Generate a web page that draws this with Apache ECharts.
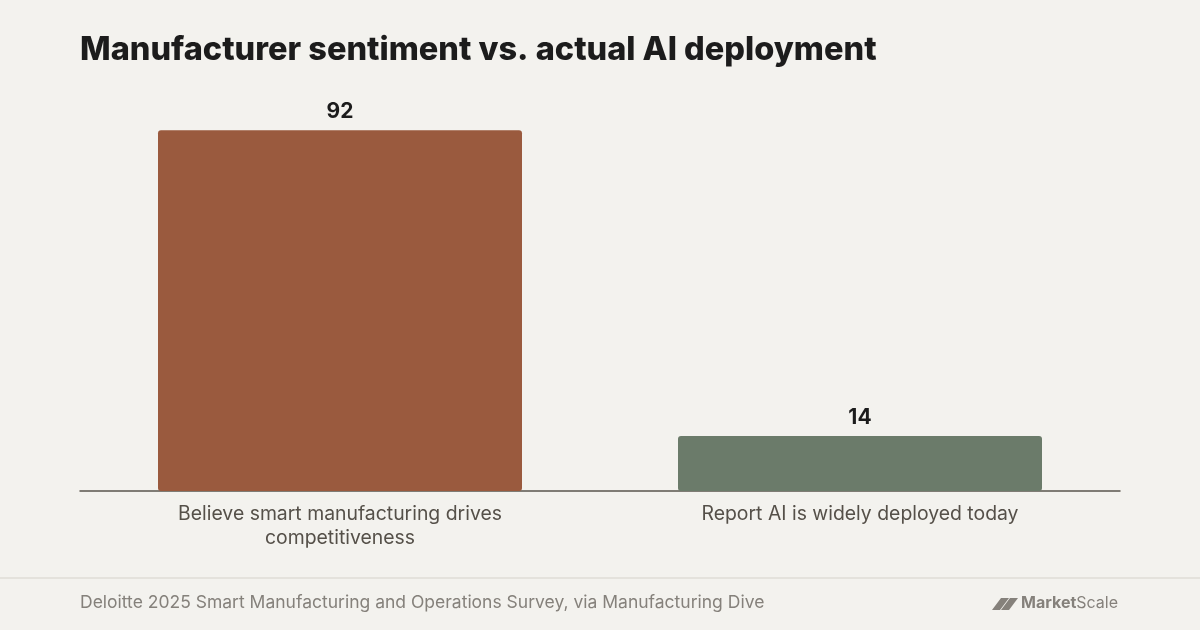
<!DOCTYPE html>
<html>
<head>
<meta charset="utf-8">
<script src="https://cdn.jsdelivr.net/npm/echarts@6/dist/echarts.min.js"></script>
<style>
  html, body { margin: 0; padding: 0; background: #f3f2ee; }
  #chart { width: 1200px; height: 630px; }
</style>
</head>
<body>
<div id="chart"></div>
<script>
var categories = ['Believe smart manufacturing drives\ncompetitiveness', 'Report AI is widely deployed today'];
var values = [92, 14];
var barColors = ['#9a5a3e', '#6b7b6a'];

var myChart = echarts.init(document.getElementById('chart'));
var option = {
    backgroundColor: '#f3f2ee',
    textStyle: { fontFamily: 'Inter' },
    title: {
        text: 'Manufacturer sentiment vs. actual AI deployment',
        left: 75,
        top: 29,
        textStyle: { fontSize: 32.5, fontWeight: 800, color: '#1c1c1c', fontFamily: 'Inter' }
    },
    grid: { left: 80, right: 80, top: 99, bottom: 139 },
    xAxis: {
        type: 'category',
        data: categories,
        axisLine: { lineStyle: { color: '#5a554d', width: 1.5 } },
        axisTick: { show: false },
        axisLabel: {
            color: '#555049',
            fontSize: 19.4,
            lineHeight: 24,
            margin: 11,
            interval: 0
        }
    },
    yAxis: {
        type: 'value',
        min: 0,
        max: 100,
        show: false,
        splitLine: { show: false }
    },
    series: [{
        type: 'bar',
        barWidth: '70%',
        data: values.map(function (v, i) {
            return { value: v, itemStyle: { color: barColors[i], borderRadius: 3 } };
        }),
        label: {
            show: true,
            position: 'top',
            distance: 8,
            fontSize: 21,
            fontWeight: 'bold',
            color: '#1c1c1c'
        }
    }],
    graphic: [
        {
            type: 'line',
            shape: { x1: 0, y1: 578, x2: 1200, y2: 578 },
            style: { stroke: '#e4e2dc', lineWidth: 2 }
        },
        {
            type: 'text',
            left: 80,
            top: 594,
            style: {
                text: 'Deloitte 2025 Smart Manufacturing and Operations Survey, via Manufacturing Dive',
                fill: '#85817b',
                font: '17.5px Inter'
            }
        },
        {
            type: 'polygon',
            shape: { points: [[992, 610], [1000, 610], [1009, 598], [1001, 598]] },
            style: { fill: '#85817b' }
        },
        {
            type: 'polygon',
            shape: { points: [[1001, 610], [1009, 610], [1018, 598], [1010, 598]] },
            style: { fill: '#85817b' }
        },
        {
            type: 'text',
            left: 1021,
            top: 595,
            style: {
                text: '{b|Market}{n|Scale}',
                rich: {
                    b: { fill: '#85817b', font: 'bold 16px Inter' },
                    n: { fill: '#85817b', font: '16px Inter' }
                }
            }
        }
    ]
};
myChart.setOption(option);
</script>
</body>
</html>
